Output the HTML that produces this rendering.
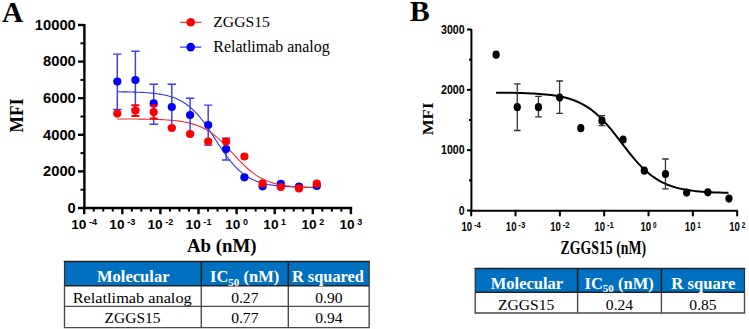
<!DOCTYPE html>
<html><head><meta charset="utf-8"><style>
html,body{margin:0;padding:0;background:#fff;width:749px;height:329px;overflow:hidden;position:relative;font-family:"Liberation Sans",sans-serif;}
</style></head><body>
<svg width="749" height="329" viewBox="0 0 749 329" style="position:absolute;left:0;top:0">
<text x="2" y="21.7" font-family="Liberation Serif" font-weight="bold" font-size="29.3">A</text>
<g stroke="#000" stroke-width="2.4" fill="none" stroke-linecap="butt">
<path d="M84.4,24 V209.2 M83.2,208 H352.2"/>
<path d="M78,208.00 H84"/>
<path d="M78,171.40 H84"/>
<path d="M78,134.80 H84"/>
<path d="M78,98.20 H84"/>
<path d="M78,61.60 H84"/>
<path d="M78,25.00 H84"/>
<path d="M80.5,189.70 H84" stroke-width="2"/>
<path d="M80.5,153.10 H84" stroke-width="2"/>
<path d="M80.5,116.50 H84" stroke-width="2"/>
<path d="M80.5,79.90 H84" stroke-width="2"/>
<path d="M80.5,43.30 H84" stroke-width="2"/>
<path d="M84.20,208 V214.2"/>
<path d="M93.73,208 V211.6" stroke-width="2"/>
<path d="M103.25,208 V211.6" stroke-width="2"/>
<path d="M112.78,208 V211.6" stroke-width="2"/>
<path d="M122.30,208 V214.2"/>
<path d="M131.83,208 V211.6" stroke-width="2"/>
<path d="M141.35,208 V211.6" stroke-width="2"/>
<path d="M150.88,208 V211.6" stroke-width="2"/>
<path d="M160.40,208 V214.2"/>
<path d="M169.93,208 V211.6" stroke-width="2"/>
<path d="M179.45,208 V211.6" stroke-width="2"/>
<path d="M188.98,208 V211.6" stroke-width="2"/>
<path d="M198.50,208 V214.2"/>
<path d="M208.03,208 V211.6" stroke-width="2"/>
<path d="M217.55,208 V211.6" stroke-width="2"/>
<path d="M227.07,208 V211.6" stroke-width="2"/>
<path d="M236.60,208 V214.2"/>
<path d="M246.13,208 V211.6" stroke-width="2"/>
<path d="M255.65,208 V211.6" stroke-width="2"/>
<path d="M265.18,208 V211.6" stroke-width="2"/>
<path d="M274.70,208 V214.2"/>
<path d="M284.22,208 V211.6" stroke-width="2"/>
<path d="M293.75,208 V211.6" stroke-width="2"/>
<path d="M303.27,208 V211.6" stroke-width="2"/>
<path d="M312.80,208 V214.2"/>
<path d="M322.32,208 V211.6" stroke-width="2"/>
<path d="M331.85,208 V211.6" stroke-width="2"/>
<path d="M341.38,208 V211.6" stroke-width="2"/>
<path d="M350.90,208 V214.2"/>
</g>
<g font-family="Liberation Sans" font-weight="bold" font-size="14.6" text-anchor="end" fill="#000">
<text x="75.8" y="212.80" textLength="8.2" lengthAdjust="spacingAndGlyphs">0</text>
<text x="75.8" y="176.20" textLength="32.8" lengthAdjust="spacingAndGlyphs">2000</text>
<text x="75.8" y="139.60" textLength="32.8" lengthAdjust="spacingAndGlyphs">4000</text>
<text x="75.8" y="103.00" textLength="32.8" lengthAdjust="spacingAndGlyphs">6000</text>
<text x="75.8" y="66.40" textLength="32.8" lengthAdjust="spacingAndGlyphs">8000</text>
<text x="75.8" y="29.80" textLength="41.0" lengthAdjust="spacingAndGlyphs">10000</text>
</g>
<g font-family="Liberation Sans" font-weight="bold" fill="#000">
<text x="71.25" y="229.2" font-size="13.4" textLength="15.2" lengthAdjust="spacingAndGlyphs">10</text>
<text x="89.05" y="225.2" font-size="8.5" textLength="8.1" lengthAdjust="spacingAndGlyphs">-4</text>
<text x="109.35" y="229.2" font-size="13.4" textLength="15.2" lengthAdjust="spacingAndGlyphs">10</text>
<text x="127.15" y="225.2" font-size="8.5" textLength="8.1" lengthAdjust="spacingAndGlyphs">-3</text>
<text x="147.45" y="229.2" font-size="13.4" textLength="15.2" lengthAdjust="spacingAndGlyphs">10</text>
<text x="165.25" y="225.2" font-size="8.5" textLength="8.1" lengthAdjust="spacingAndGlyphs">-2</text>
<text x="185.55" y="229.2" font-size="13.4" textLength="15.2" lengthAdjust="spacingAndGlyphs">10</text>
<text x="203.35" y="225.2" font-size="8.5" textLength="8.1" lengthAdjust="spacingAndGlyphs">-1</text>
<text x="225.20" y="229.2" font-size="13.4" textLength="15.2" lengthAdjust="spacingAndGlyphs">10</text>
<text x="243.00" y="225.2" font-size="8.5" textLength="5.0" lengthAdjust="spacingAndGlyphs">0</text>
<text x="263.30" y="229.2" font-size="13.4" textLength="15.2" lengthAdjust="spacingAndGlyphs">10</text>
<text x="281.10" y="225.2" font-size="8.5" textLength="5.0" lengthAdjust="spacingAndGlyphs">1</text>
<text x="301.40" y="229.2" font-size="13.4" textLength="15.2" lengthAdjust="spacingAndGlyphs">10</text>
<text x="319.20" y="225.2" font-size="8.5" textLength="5.0" lengthAdjust="spacingAndGlyphs">2</text>
<text x="339.50" y="229.2" font-size="13.4" textLength="15.2" lengthAdjust="spacingAndGlyphs">10</text>
<text x="357.30" y="225.2" font-size="8.5" textLength="5.0" lengthAdjust="spacingAndGlyphs">3</text>
</g>
<text transform="translate(23.2,132.4) rotate(-90)" font-family="Liberation Serif" font-weight="bold" font-size="19.8" textLength="34" lengthAdjust="spacingAndGlyphs">MFI</text>
<text x="186.9" y="251.8" font-family="Liberation Serif" font-weight="bold" font-size="19" textLength="69.7" lengthAdjust="spacingAndGlyphs">Ab (nM)</text>
<path d="M180,22.3 H201.4" stroke="#e83030" stroke-width="1.2"/>
<circle cx="190.7" cy="22.3" r="4.3" fill="#f00"/>
<path d="M180,47.1 H201.4" stroke="#3030f0" stroke-width="1.2"/>
<circle cx="190.7" cy="47.1" r="4.3" fill="#0000f0"/>
<text x="213.3" y="27" font-family="Liberation Serif" font-size="15.6" textLength="56.5" lengthAdjust="spacingAndGlyphs">ZGGS15</text>
<text x="213.3" y="51.8" font-family="Liberation Serif" font-size="15.9" textLength="116.4" lengthAdjust="spacingAndGlyphs">Relatlimab analog</text>
<path d="M117.30,91.77 L119.78,91.80 L122.25,91.83 L124.73,91.87 L127.21,91.92 L129.69,91.97 L132.16,92.04 L134.64,92.11 L137.12,92.20 L139.60,92.30 L142.07,92.42 L144.55,92.57 L147.03,92.73 L149.51,92.93 L151.98,93.15 L154.46,93.42 L156.94,93.73 L159.42,94.09 L161.89,94.50 L164.37,94.99 L166.85,95.56 L169.33,96.21 L171.81,96.97 L174.28,97.84 L176.76,98.84 L179.24,99.99 L181.71,101.30 L184.19,102.79 L186.67,104.47 L189.15,106.36 L191.62,108.48 L194.10,110.82 L196.58,113.40 L199.06,116.22 L201.53,119.26 L204.01,122.52 L206.49,125.96 L208.97,129.57 L211.44,133.30 L213.92,137.11 L216.40,140.94 L218.88,144.77 L221.35,148.52 L223.83,152.16 L226.31,155.66 L228.79,158.97 L231.26,162.07 L233.74,164.95 L236.22,167.60 L238.70,170.01 L241.18,172.18 L243.65,174.13 L246.13,175.87 L248.61,177.41 L251.08,178.77 L253.56,179.96 L256.04,181.00 L258.52,181.91 L261.00,182.69 L263.47,183.37 L265.95,183.96 L268.43,184.47 L270.90,184.91 L273.38,185.28 L275.86,185.60 L278.34,185.88 L280.81,186.12 L283.29,186.32 L285.77,186.49 L288.25,186.64 L290.73,186.77 L293.20,186.87 L295.68,186.97 L298.16,187.04 L300.63,187.11 L303.11,187.17 L305.59,187.22 L308.07,187.26 L310.54,187.30 L313.02,187.33 L315.50,187.35" fill="none" stroke="#3030e8" stroke-width="1.1"/>
<path d="M117.30,118.95 L119.78,118.95 L122.25,118.96 L124.73,118.97 L127.21,118.98 L129.69,119.00 L132.16,119.02 L134.64,119.04 L137.12,119.06 L139.60,119.09 L142.07,119.12 L144.55,119.15 L147.03,119.20 L149.51,119.25 L151.98,119.31 L154.46,119.38 L156.94,119.46 L159.42,119.55 L161.89,119.66 L164.37,119.79 L166.85,119.94 L169.33,120.11 L171.81,120.31 L174.28,120.55 L176.76,120.82 L179.24,121.13 L181.71,121.50 L184.19,121.92 L186.67,122.41 L189.15,122.97 L191.62,123.62 L194.10,124.36 L196.58,125.21 L199.06,126.17 L201.53,127.25 L204.01,128.48 L206.49,129.85 L208.97,131.38 L211.44,133.07 L213.92,134.92 L216.40,136.94 L218.88,139.11 L221.35,141.43 L223.83,143.88 L226.31,146.43 L228.79,149.08 L231.26,151.77 L233.74,154.48 L236.22,157.18 L238.70,159.84 L241.18,162.42 L243.65,164.90 L246.13,167.25 L248.61,169.46 L251.08,171.51 L253.56,173.40 L256.04,175.13 L258.52,176.70 L261.00,178.11 L263.47,179.37 L265.95,180.49 L268.43,181.48 L270.90,182.35 L273.38,183.11 L275.86,183.78 L278.34,184.36 L280.81,184.87 L283.29,185.30 L285.77,185.68 L288.25,186.01 L290.73,186.29 L293.20,186.54 L295.68,186.75 L298.16,186.92 L300.63,187.08 L303.11,187.21 L305.59,187.33 L308.07,187.42 L310.54,187.51 L313.02,187.58 L315.50,187.64" fill="none" stroke="#e83030" stroke-width="1.1"/>
<g stroke="#3b3bf0" stroke-width="1.45" fill="none">
<path d="M117.30,54.10 V109.40 M113.10,54.10 H121.50 M113.10,109.40 H121.50"/>
<path d="M135.40,51.30 V109.50 M131.20,51.30 H139.60 M131.20,109.50 H139.60"/>
<path d="M153.70,84.20 V124.20 M149.50,84.20 H157.90 M149.50,124.20 H157.90"/>
<path d="M171.80,84.20 V127.50 M167.60,84.20 H176.00 M167.60,127.50 H176.00"/>
<path d="M190.10,98.20 V133.50 M185.90,98.20 H194.30 M185.90,133.50 H194.30"/>
<path d="M208.20,105.10 V145.10 M204.00,105.10 H212.40 M204.00,145.10 H212.40"/>
<path d="M226.10,138.20 V160.00 M221.90,138.20 H230.30 M221.90,160.00 H230.30"/>
</g>
<g fill="#0000f5">
<circle cx="117.30" cy="81.50" r="4.1"/>
<circle cx="135.40" cy="80.00" r="4.1"/>
<circle cx="153.70" cy="103.40" r="4.1"/>
<circle cx="171.80" cy="107.00" r="4.1"/>
<circle cx="190.10" cy="115.00" r="4.1"/>
<circle cx="208.20" cy="125.00" r="4.1"/>
<circle cx="226.10" cy="149.10" r="4.1"/>
<circle cx="244.40" cy="177.30" r="4.1"/>
<circle cx="262.60" cy="186.30" r="4.1"/>
<circle cx="280.80" cy="183.80" r="4.1"/>
<circle cx="299.00" cy="186.50" r="4.1"/>
<circle cx="316.80" cy="186.00" r="4.1"/>
</g>
<g stroke="#ff0000" stroke-width="2" fill="none">
<path d="M135.40,105.20 V116.00 M131.40,105.20 H139.40 M131.40,116.00 H139.40"/>
<path d="M153.70,105.60 V118.40 M149.70,105.60 H157.70 M149.70,118.40 H157.70"/>
</g>
<g fill="#ff0000">
<circle cx="117.30" cy="113.60" r="4.1"/>
<circle cx="135.40" cy="110.50" r="4.1"/>
<circle cx="153.70" cy="112.10" r="4.1"/>
<circle cx="171.80" cy="128.00" r="4.1"/>
<circle cx="190.10" cy="134.00" r="4.1"/>
<circle cx="208.20" cy="141.60" r="4.1"/>
<circle cx="226.10" cy="141.60" r="4.1"/>
<circle cx="244.40" cy="156.50" r="4.1"/>
<circle cx="262.60" cy="183.40" r="4.1"/>
<circle cx="280.80" cy="187.00" r="4.1"/>
<circle cx="299.00" cy="188.40" r="4.1"/>
<circle cx="316.80" cy="183.70" r="4.1"/>
</g>
<rect x="64.5" y="261.5" width="304.7" height="24.3" fill="#0070c0"/>
<g stroke="#4a4a4a" stroke-width="1.4" fill="none">
<path d="M64.5,285.8 V327.6 H369.2 V285.8"/>
<path d="M64.5,306.4 H369.2"/>
<path d="M201.3,285.8 V327.6"/>
<path d="M288.3,285.8 V327.6"/>
</g>
<g stroke="#222" stroke-width="1.6" fill="none">
<path d="M63.8,261.5 H369.9 M64.5,285.8 H369.2"/>
<path d="M201.3,261.5 V285.8"/>
<path d="M288.3,261.5 V285.8"/>
<path d="M64.5,261.5 V285.8 M369.2,261.5 V285.8" stroke-width="1.2" stroke="#333"/>
</g>
<g font-family="Liberation Serif" font-weight="bold" fill="#fff" font-size="16.5">
<text x="97" y="282" textLength="72.5" lengthAdjust="spacingAndGlyphs">Molecular</text>
<text x="210" y="282">IC<tspan font-size="11" dy="3.5">50</tspan><tspan dy="-3.5"> (nM)</tspan></text>
<text x="291.9" y="282" textLength="72.1" lengthAdjust="spacingAndGlyphs">R squared</text>
</g>
<g font-family="Liberation Serif" fill="#000" font-size="15.6" text-anchor="middle">
<text x="132.2" y="302.8" textLength="119" lengthAdjust="spacingAndGlyphs">Relatlimab analog</text>
<text x="132.6" y="323.1" textLength="56" lengthAdjust="spacingAndGlyphs">ZGGS15</text>
<text x="244.8" y="302.8">0.27</text>
<text x="244.8" y="323.1">0.77</text>
<text x="328.9" y="302.8">0.90</text>
<text x="328.9" y="323.1">0.94</text>
</g>
<text x="409.8" y="21.2" font-family="Liberation Serif" font-weight="bold" font-size="30">B</text>
<g stroke="#000" stroke-width="2" fill="none">
<path d="M471.4,29 V211.5 M470.4,210.8 H737.8"/>
<path d="M467,210.50 H471.4"/>
<path d="M467,150.17 H471.4"/>
<path d="M467,89.84 H471.4"/>
<path d="M467,29.51 H471.4"/>
<path d="M469,180.34 H471.4"/>
<path d="M469,120.00 H471.4"/>
<path d="M469,59.67 H471.4"/>
<path d="M471.20,210.8 V216.3"/>
<path d="M515.53,210.8 V216.3"/>
<path d="M559.86,210.8 V216.3"/>
<path d="M604.19,210.8 V216.3"/>
<path d="M648.52,210.8 V216.3"/>
<path d="M692.85,210.8 V216.3"/>
<path d="M737.18,210.8 V216.3"/>
</g>
<g font-family="Liberation Sans" font-weight="bold" font-size="12.5" fill="#000">
<text x="458.70" y="214.50" textLength="5.9" lengthAdjust="spacingAndGlyphs">0</text>
<text x="441.00" y="154.17" textLength="23.6" lengthAdjust="spacingAndGlyphs">1000</text>
<text x="441.00" y="93.84" textLength="23.6" lengthAdjust="spacingAndGlyphs">2000</text>
<text x="441.00" y="33.51" textLength="23.6" lengthAdjust="spacingAndGlyphs">3000</text>
</g>
<g font-family="Liberation Sans" font-weight="bold" fill="#000">
<text x="461.50" y="231.3" font-size="12.6" textLength="10.7" lengthAdjust="spacingAndGlyphs">10</text>
<text x="474.00" y="228.2" font-size="9" textLength="6.9" lengthAdjust="spacingAndGlyphs">-4</text>
<text x="505.83" y="231.3" font-size="12.6" textLength="10.7" lengthAdjust="spacingAndGlyphs">10</text>
<text x="518.33" y="228.2" font-size="9" textLength="6.9" lengthAdjust="spacingAndGlyphs">-3</text>
<text x="550.16" y="231.3" font-size="12.6" textLength="10.7" lengthAdjust="spacingAndGlyphs">10</text>
<text x="562.66" y="228.2" font-size="9" textLength="6.9" lengthAdjust="spacingAndGlyphs">-2</text>
<text x="594.49" y="231.3" font-size="12.6" textLength="10.7" lengthAdjust="spacingAndGlyphs">10</text>
<text x="606.99" y="228.2" font-size="9" textLength="6.9" lengthAdjust="spacingAndGlyphs">-1</text>
<text x="640.52" y="231.3" font-size="12.6" textLength="10.7" lengthAdjust="spacingAndGlyphs">10</text>
<text x="653.02" y="228.2" font-size="9" textLength="3.5" lengthAdjust="spacingAndGlyphs">0</text>
<text x="684.85" y="231.3" font-size="12.6" textLength="10.7" lengthAdjust="spacingAndGlyphs">10</text>
<text x="697.35" y="228.2" font-size="9" textLength="3.5" lengthAdjust="spacingAndGlyphs">1</text>
<text x="729.18" y="231.3" font-size="12.6" textLength="10.7" lengthAdjust="spacingAndGlyphs">10</text>
<text x="741.68" y="228.2" font-size="9" textLength="3.5" lengthAdjust="spacingAndGlyphs">2</text>
</g>
<text transform="translate(432.7,135.3) rotate(-90)" font-family="Liberation Serif" font-weight="bold" font-size="14.6" textLength="32.8" lengthAdjust="spacingAndGlyphs">MFI</text>
<text x="560.6" y="253.6" font-family="Liberation Serif" font-weight="bold" font-size="17.8" textLength="85.4" lengthAdjust="spacingAndGlyphs">ZGGS15 (nM)</text>
<path d="M496.10,92.65 L499.00,92.67 L501.91,92.70 L504.81,92.73 L507.72,92.77 L510.62,92.81 L513.53,92.87 L516.44,92.93 L519.34,92.99 L522.25,93.07 L525.15,93.17 L528.06,93.28 L530.96,93.40 L533.87,93.55 L536.77,93.71 L539.68,93.91 L542.58,94.13 L545.49,94.40 L548.39,94.70 L551.30,95.05 L554.20,95.45 L557.11,95.91 L560.01,96.45 L562.91,97.06 L565.82,97.77 L568.73,98.57 L571.63,99.49 L574.53,100.54 L577.44,101.73 L580.35,103.07 L583.25,104.59 L586.15,106.29 L589.06,108.18 L591.97,110.29 L594.87,112.61 L597.77,115.14 L600.68,117.90 L603.59,120.87 L606.49,124.05 L609.39,127.40 L612.30,130.92 L615.21,134.56 L618.11,138.30 L621.01,142.09 L623.92,145.88 L626.83,149.64 L629.73,153.33 L632.63,156.90 L635.54,160.32 L638.44,163.57 L641.35,166.63 L644.25,169.47 L647.16,172.10 L650.07,174.51 L652.97,176.69 L655.88,178.67 L658.78,180.45 L661.68,182.04 L664.59,183.45 L667.50,184.70 L670.40,185.80 L673.31,186.77 L676.21,187.62 L679.12,188.37 L682.02,189.02 L684.92,189.58 L687.83,190.07 L690.74,190.50 L693.64,190.87 L696.55,191.19 L699.45,191.46 L702.36,191.70 L705.26,191.91 L708.16,192.09 L711.07,192.24 L713.98,192.38 L716.88,192.49 L719.79,192.59 L722.69,192.67 L725.60,192.75 L728.50,192.81" fill="none" stroke="#000" stroke-width="2"/>
<g stroke="#333" stroke-width="1.3" fill="none">
<path d="M517.27,83.80 V130.50 M513.97,83.80 H520.57 M513.97,130.50 H520.57"/>
<path d="M538.44,96.30 V116.90 M535.14,96.30 H541.74 M535.14,116.90 H541.74"/>
<path d="M559.61,81.00 V113.30 M556.31,81.00 H562.91 M556.31,113.30 H562.91"/>
<path d="M601.95,115.60 V125.70 M598.65,115.60 H605.25 M598.65,125.70 H605.25"/>
<path d="M665.46,159.00 V188.90 M662.16,159.00 H668.76 M662.16,188.90 H668.76"/>
</g>
<g fill="#000">
<ellipse cx="496.10" cy="54.70" rx="3.6" ry="4.1"/>
<ellipse cx="517.27" cy="107.20" rx="3.6" ry="4.1"/>
<ellipse cx="538.44" cy="107.20" rx="3.6" ry="4.1"/>
<ellipse cx="559.61" cy="97.60" rx="3.6" ry="4.1"/>
<ellipse cx="580.78" cy="128.20" rx="3.6" ry="4.1"/>
<ellipse cx="601.95" cy="120.70" rx="3.6" ry="4.1"/>
<ellipse cx="623.12" cy="139.50" rx="3.6" ry="4.1"/>
<ellipse cx="644.29" cy="170.70" rx="3.6" ry="4.1"/>
<ellipse cx="665.46" cy="174.00" rx="3.6" ry="4.1"/>
<ellipse cx="686.63" cy="192.60" rx="3.6" ry="4.1"/>
<ellipse cx="707.80" cy="192.30" rx="3.6" ry="4.1"/>
<ellipse cx="728.97" cy="198.60" rx="3.6" ry="4.1"/>
</g>
<rect x="475.2" y="268.5" width="269.3" height="23.7" fill="#0070c0"/>
<g stroke="#4a4a4a" stroke-width="1.4" fill="none">
<path d="M475.2,292.2 V313.0 H744.5 V292.2"/>
<path d="M577.6,292.2 V313.0"/>
<path d="M661.4,292.2 V313.0"/>
</g>
<g stroke="#222" stroke-width="1.6" fill="none">
<path d="M474.5,268.5 H745.2 M475.2,292.2 H744.5"/>
<path d="M577.6,268.5 V292.2"/>
<path d="M661.4,268.5 V292.2"/>
<path d="M475.2,268.5 V292.2 M744.5,268.5 V292.2" stroke-width="1.2" stroke="#333"/>
</g>
<g font-family="Liberation Serif" font-weight="bold" fill="#fff" font-size="16.5">
<text x="490.7" y="288.6" textLength="72.5" lengthAdjust="spacingAndGlyphs">Molecular</text>
<text x="584.5" y="288.6">IC<tspan font-size="11" dy="3.5">50</tspan><tspan dy="-3.5"> (nM)</tspan></text>
<text x="671.3" y="288.6" textLength="64" lengthAdjust="spacingAndGlyphs">R square</text>
</g>
<g font-family="Liberation Serif" fill="#000" font-size="15.6" text-anchor="middle">
<text x="526.1" y="310.3" textLength="56.4" lengthAdjust="spacingAndGlyphs">ZGGS15</text>
<text x="619.5" y="310">0.24</text>
<text x="703" y="310">0.85</text>
</g>
</svg>
</body></html>
